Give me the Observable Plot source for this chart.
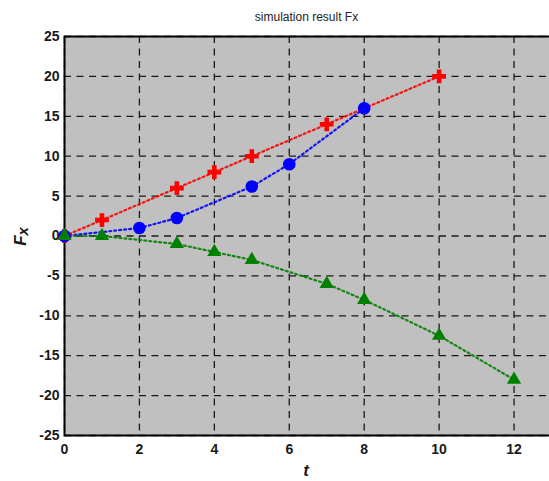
<!DOCTYPE html>
<html><head><meta charset="utf-8">
<script src="https://cdn.jsdelivr.net/npm/d3@7"></script>
<script src="https://cdn.jsdelivr.net/npm/@observablehq/plot@0.6"></script>
<style>
html,body{margin:0;padding:0;background:#fff;overflow:hidden;}
body{font-family:"Liberation Sans",Arial,Helvetica,sans-serif;}
#title{height:22px;line-height:34px;margin-left:64px;width:485px;text-align:center;font-size:12px;color:#222;overflow:visible;}
</style></head><body>
<div id="title">simulation result Fx</div>
<div id="chart"></div>
<script>
// Tick labels
const xTicks = [0, 2, 4, 6, 8, 10, 12];
const yTicks = [-25, -20, -15, -10, -5, 0, 5, 10, 15, 20, 25];

// Series: red (crosses)
const redT = [0, 1, 3, 4, 5, 7, 10];
const redF = [0, 2, 6, 8, 10, 14, 20];
// Series: blue (circles)
const blueT = [0, 2, 3, 5, 6, 8];
const blueF = [0, 1, 2.25, 6.2, 9, 16];
// Series: green (triangles)
const greenT = [0, 1, 3, 4, 5, 7, 8, 10, 12];
const greenF = [0, 0, -1, -2, -3, -6, -8, -12.5, -18];

const toRows = (T, F) => T.map((t, i) => ({t, f: F[i]}));
const red = toRows(redT, redF);
const blue = toRows(blueT, blueF);
const green = toRows(greenT, greenF);

const lineStyle = {x: "t", y: "f", strokeWidth: 2.2, strokeDasharray: "2,3", strokeOpacity: 0.9};
const gridStyle = {stroke: "#1a1a1a", strokeOpacity: 1, strokeWidth: 1.3, strokeDasharray: "7,5.5"};
const fmt = d => String(d);

const plot = Plot.plot({
  width: 549,
  height: 459,
  marginTop: 14,
  marginBottom: 46,
  marginLeft: 64,
  marginRight: -2,
  style: {fontFamily: "'Liberation Sans', Arial, sans-serif", fontSize: "14px", fontWeight: "bold", color: "#1a1a1a", background: "white"},
  x: {domain: [0, 13]},
  y: {domain: [-25, 25]},
  marks: [
    Plot.frame({fill: "#c0c0c0"}),
    Plot.gridX(xTicks, gridStyle),
    Plot.gridY(yTicks, gridStyle),
    Plot.frame({stroke: "black", strokeWidth: 2}),
    Plot.axisX(xTicks, {tickSize: 0, tickPadding: 9, label: null, tickFormat: fmt}),
    Plot.axisY(yTicks, {tickSize: 0, tickPadding: 5, label: null, tickFormat: fmt}),
    Plot.line(red, {...lineStyle, stroke: "#ff0000"}),
    Plot.line(blue, {...lineStyle, stroke: "#0000ff"}),
    Plot.line(green, {...lineStyle, stroke: "#008000"}),
    Plot.dot(red, {x: "t", y: "f", symbol: "cross", fill: "#ff0000", r: 5.8}),
    Plot.dot(blue, {x: "t", y: "f", symbol: "circle", fill: "#0000ff", r: 6.3}),
    Plot.dot(green, {x: "t", y: "f", symbol: "triangle", fill: "#008000", r: 5.3})
  ]
});
document.getElementById("chart").appendChild(plot);

const svg = d3.select(plot);
const ys = plot.scale("y");
// x axis label
svg.append("text")
  .attr("x", 306).attr("y", 454)
  .attr("text-anchor", "middle")
  .style("font-style", "italic").style("font-weight", "bold").style("font-size", "17px")
  .attr("fill", "#1a1a1a")
  .text("t");
// y axis label F_x
const yl = svg.append("text")
  .attr("transform", `translate(26,${ys.apply(0) + 1}) rotate(-90)`)
  .attr("text-anchor", "middle")
  .style("font-style", "italic").style("font-weight", "bold").style("font-size", "17px")
  .attr("fill", "#1a1a1a");
yl.append("tspan").text("F");
yl.append("tspan").attr("dy", 2).style("font-size", "15px").text("x");
</script>
</body></html>
